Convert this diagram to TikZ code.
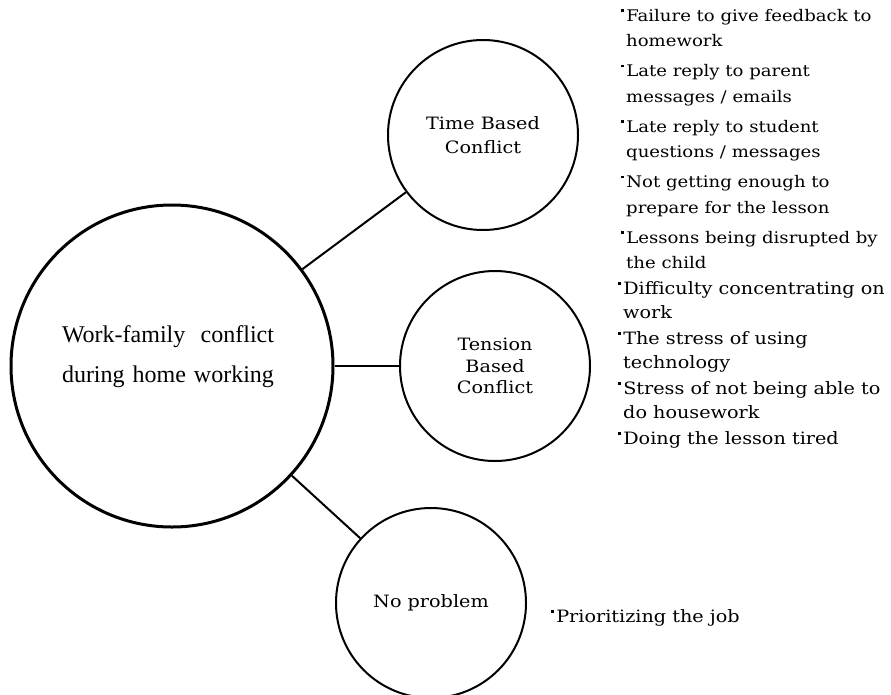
\documentclass[tikz,border=0pt]{standalone}
\usepackage{fontspec}
\setmainfont[FakeStretch=1.13]{DejaVu Serif}
\newfontfamily\headfont{Liberation Serif}
\usetikzlibrary{positioning}

\tikzset{
  topic/.style={circle, draw, line width=2pt, minimum size=190pt, inner sep=0pt,
    align=center, font=\fontsize{17}{24}\selectfont},
  main/.style={topic, line width=3pt, minimum size=322pt},
  link/.style={line width=2pt},
  pointlist/.style={align=left, anchor=north west, inner sep=0pt},
}
\newcommand{\dotmark}{\raisebox{9.5pt}{\rule{2.6pt}{2.6pt}}\hspace{2.5pt}}
\newcommand{\cont}{\hspace*{5pt}}

\begin{document}
\begin{tikzpicture}[x=1pt,y=-1pt]
    \useasboundingbox (0,0) rectangle (891,694);

    \node[main, label={[font=\headfont\fontsize{24}{40}\selectfont, text width=212pt,
      align=left, xshift=-4pt, yshift=9pt]center:{Work-family\hfill conflict\\during home working}}]
      (work) at (172,366) {};
    \node[topic] (time) at (483,135) {Time Based\\Conflict};
    \node[topic, font=\fontsize{17}{21.5}\selectfont] (tension) at (495,366) {Tension\\Based\\Conflict};
    \node[topic] (none) at (431,603) {No problem};

    \draw[link] (work) -- (time);
    \draw[link] (work) -- (tension);
    \draw[link] (work) -- (none);

    % lists of causes
    \node[pointlist, font=\fontsize{16}{25.5}\selectfont] (timelist) at (621,9) {%
      \dotmark Failure to give feedback to\\ \cont homework\\[4.5pt]
      \dotmark Late reply to parent\\ \cont messages / emails\\[4.5pt]
      \dotmark Late reply to student\\ \cont questions / messages\\[4.5pt]
      \dotmark Not getting enough to\\ \cont prepare for the lesson\\[4.5pt]
      \dotmark Lessons being disrupted by\\ \cont the child};
    \node[pointlist, font=\fontsize{17}{24}\selectfont] (tensionlist) at (618,281) {%
      \dotmark Difficulty concentrating on\\ \cont work\\[2pt]
      \dotmark The stress of using\\ \cont technology\\[2pt]
      \dotmark Stress of not being able to\\ \cont do housework\\[2pt]
      \dotmark Doing the lesson tired};
    \node[pointlist, anchor=base west, font=\fontsize{17}{24}\selectfont] (nonelist) at (551,622) {%
      \dotmark Prioritizing the job};
\end{tikzpicture}
\end{document}
